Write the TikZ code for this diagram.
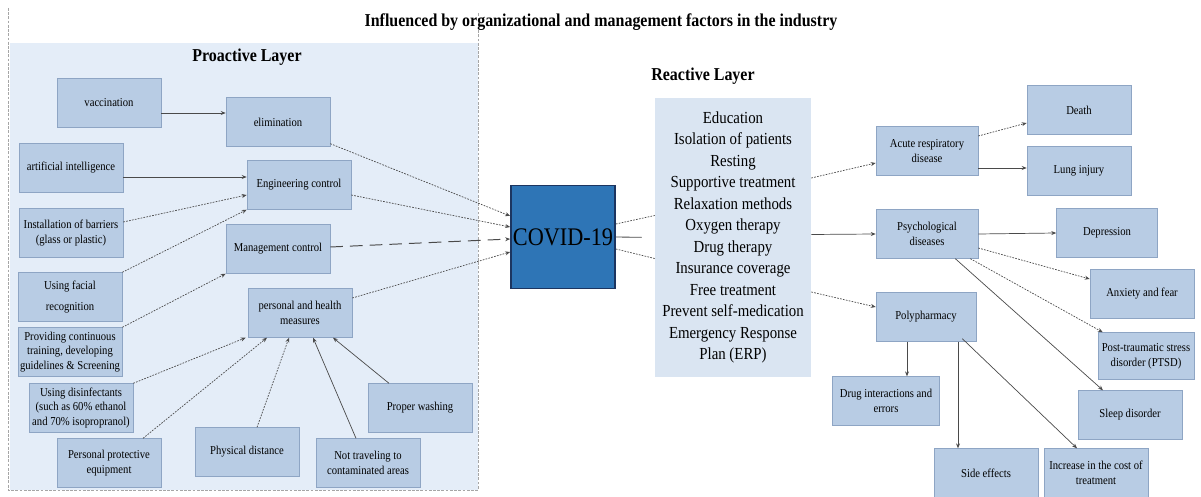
\documentclass[tikz,border=0pt]{standalone}
\usepackage{fontspec}
\setmainfont[FakeStretch=0.88]{Liberation Serif}
\usepackage{tikz}
\usepackage{xcolor}
\usetikzlibrary{calc,arrows.meta}

\definecolor{panelbg}{HTML}{E4EDF8}
\definecolor{boxfill}{HTML}{B8CCE4}
\definecolor{boxedge}{HTML}{8EA5C4}
\definecolor{reactbg}{HTML}{DAE5F2}
\definecolor{covidblue}{HTML}{2E75B6}
\definecolor{covidedge}{HTML}{1C3560}
\definecolor{lineg}{HTML}{4A4A4A}

\begin{document}
\begin{tikzpicture}[x=0.025cm,y=-0.025cm]
    \tikzstyle{box}=[draw=boxedge,fill=boxfill,minimum width=2.6cm,minimum height=1.22cm,inner sep=1pt,align=center,font=\fontsize{8.6}{10.5}\selectfont]
    \tikzstyle{head}=[font=\bfseries\fontsize{12.9}{15}\selectfont]
    \tikzstyle{dotline}=[draw=lineg,line width=0.5pt,dash pattern=on 1.2pt off 0.9pt]
    \tikzstyle{dotarr}=[dotline,-{Stealth[length=3.5pt,width=2.8pt]}]
    \tikzstyle{solarr}=[draw=lineg,line width=0.5pt,-{Stealth[length=3.5pt,width=2.8pt]}]

    \useasboundingbox (0,0) rectangle (1201,497);

    % Proactive layer panel
    \fill[panelbg] (10,43) rectangle (478,490);
    \draw[gray!70,line width=0.5pt,dash pattern=on 2pt off 1pt] (8,8) -- (8,490) -- (478,490) -- (478,12);

    \node[head] (Title) at (601,22) {Influenced by organizational and management factors in the industry};
    \node[head] (ProT) at (247,57) {Proactive Layer};
    \node[head] (ReT) at (703,76) {Reactive Layer};

    % Proactive boxes
    \node[box] (Vac) at (109,103) {vaccination};
    \node[box] (Elim) at (278,122) {elimination};
    \node[box] (AI) at (71,168) {artificial intelligence};
    \node[box] (Eng) at (299,185) {Engineering control};
    \node[box] (Barr) at (71,233) {Installation of barriers\\(glass or plastic)};
    \node[box] (Mgmt) at (278,249) {Management control};
    \node[box] (Face) at (70,297) {Using facial\\[4pt]recognition};
    \node[box] (Train) at (70,352) {Providing continuous\\training, developing\\guidelines \& Screening};
    \node[box] (Pers) at (300,313) {personal and health\\measures};
    \node[box] (Disinf) at (81,408) {Using disinfectants\\(such as 60\% ethanol\\and 70\% isopropranol)};
    \node[box] (PPE) at (109,463) {Personal protective\\equipment};
    \node[box] (Dist) at (247,452) {Physical distance};
    \node[box] (Travel) at (368,463) {Not traveling to\\contaminated areas};
    \node[box] (Wash) at (420,408) {Proper washing};

    % COVID and reactive layer
    \node[draw=covidedge,line width=1.2pt,fill=covidblue,minimum width=2.6cm,minimum height=2.575cm,inner sep=0pt,font=\fontsize{18}{20}\selectfont] (Covid) at (563,237) {COVID-19};
    \node[fill=reactbg,minimum width=3.9cm,minimum height=6.975cm,align=center,font=\fontsize{12}{15.3}\selectfont] (React) at (733,237.5) {Education\\Isolation of patients\\Resting\\Supportive treatment\\Relaxation methods\\Oxygen therapy\\Drug therapy\\Insurance coverage\\Free treatment\\Prevent self-medication\\Emergency Response\\Plan (ERP)};

    % Outcome boxes
    \node[box,minimum width=2.55cm] (Acute) at (927,151) {Acute respiratory\\disease};
    \node[box] (Death) at (1079,110) {Death};
    \node[box] (Lung) at (1079,171) {Lung injury};
    \node[box,minimum width=2.55cm] (Psych) at (927,234) {Psychological\\diseases};
    \node[box,minimum width=2.525cm] (Dep) at (1107,233) {Depression};
    \node[box] (Anx) at (1142,294) {Anxiety and fear};
    \node[box,minimum width=2.5cm] (Poly) at (926,317) {Polypharmacy};
    \node[box,minimum width=2.675cm] (Drug) at (886,401) {Drug interactions and\\errors};
    \node[box,minimum width=2.4cm,minimum height=1.175cm] (PTSD) at (1146,356) {Post-traumatic stress\\disorder (PTSD)};
    \node[box] (Sleep) at (1130,415) {Sleep disorder};
    \node[box] (Side) at (986,473) {Side effects};
    \node[box] (Cost) at (1096,473) {Increase in the cost of\\treatment};

    % Proactive edges
    \draw[solarr] ($(Vac.east)+(0,10)$) -- ($(Elim.west)+(0,-9)$);
    \draw[solarr] ($(AI.east)+(0,9)$) -- ($(Eng.west)+(0,-8)$);
    \draw[dotarr] ($(Barr.east)+(0,-11)$) -- ($(Eng.west)+(0,10)$);
    \draw[dotarr] (Face.north east) -- (Eng.south west);
    \draw[dotarr] (Train.north east) -- (Mgmt.south west);
    \draw[dotarr] (Disinf.north east) -- ($(Pers.south west)+(-2,0)$);
    \draw[dotarr] ($(PPE.north)+(34,0)$) -- ($(Pers.south)+(-33,0)$);
    \draw[dotarr] ($(Dist.north)+(10,0)$) -- ($(Pers.south)+(-11,0)$);
    \draw[solarr] ($(Travel.north)+(-12,0)$) -- ($(Pers.south)+(13,0)$);
    \draw[solarr] ($(Wash.north)+(-31,0)$) -- ($(Pers.south)+(33,0)$);

    % Into COVID-19
    \draw[dotarr] ($(Elim.south east)+(0,-3)$) -- ($(Covid.west)+(0,-21)$);
    \draw[dotarr] ($(Eng.east)+(0,10)$) -- ($(Covid.west)+(0,-10)$);
    \draw[draw=lineg,line width=0.7pt,dash pattern=on 9pt off 5pt,-{Stealth[length=3.5pt,width=2.8pt]}] ($(Mgmt.east)+(0,-2)$) -- ($(Covid.west)+(0,2)$);
    \draw[dotarr] ($(Pers.east)+(0,-15)$) -- ($(Covid.west)+(0,15)$);

    % COVID-19 to reactive layer
    \draw[dotline] ($(Covid.east)+(0,-13)$) -- ($(React.west)+(0,-22)$);
    \draw[draw=lineg,line width=0.6pt,shorten >=0.33cm] (Covid.east) -- (React.west);
    \draw[dotline] ($(Covid.east)+(0,12)$) -- ($(React.west)+(0,21)$);

    % Reactive layer to outcomes
    \draw[dotarr] ($(React.east)+(0,-59.5)$) -- ($(Acute.west)+(0,12)$);
    \draw[solarr] ($(React.east)+(0,-3)$) -- (Psych.west);
    \draw[dotarr] ($(React.east)+(0,54.5)$) -- ($(Poly.west)+(0,-10)$);

    \draw[dotarr] ($(Acute.east)+(0,-15)$) -- ($(Death.west)+(0,13)$);
    \draw[solarr] ($(Acute.east)+(0,17)$) -- ($(Lung.west)+(0,-3)$);
    \draw[solarr] (Psych.east) -- (Dep.west);
    \draw[dotarr] ($(Psych.east)+(0,14)$) -- ($(Anx.west)+(0,-15)$);
    \draw[dotarr] ($(Psych.south east)+(-8,0)$) -- ($(PTSD.north west)+(5,0)$);
    \draw[solarr] ($(Psych.south east)+(-23,0)$) -- ($(Sleep.north)+(-27,0)$);

    \draw[solarr] ($(Poly.south)+(-19,0)$) coordinate (P1) -- (P1 |- Drug.north);
    \draw[solarr] ($(Poly.south)+(32,0)$) coordinate (P2) -- (P2 |- Side.north);
    \draw[solarr] ($(Poly.south east)+(-14,-3)$) -- ($(Cost.north)+(-19,0)$);
\end{tikzpicture}
\end{document}
